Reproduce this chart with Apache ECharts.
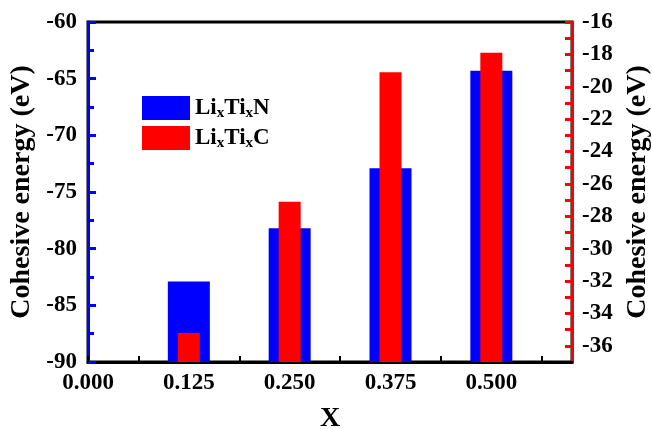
<!DOCTYPE html>
<html><head><meta charset="utf-8">
<script src="https://cdn.jsdelivr.net/npm/echarts@6/dist/echarts.min.js"></script>
<style>html,body{margin:0;padding:0;background:#fff}#c{width:652px;height:429px}</style>
</head><body><div id="c"></div>
<script>
var xValues = [0.125, 0.250, 0.375, 0.500];
var nitrideEnergy = [-82.9, -78.2, -72.9, -64.3];   // LixTixN, left axis
var carbideEnergy = [-35.2, -27.1, -19.1, -17.9];   // LixTixC, right axis
var seriesNames = ['LixTixN', 'LixTixC'];
var xTickLabels = [0.000, 0.125, 0.250, 0.375, 0.500];

var FONT = '"Liberation Serif", "Times New Roman", serif';
function pairs(xs, ys){ return xs.map(function(x,i){ return [x, ys[i]]; }); }
var chart = echarts.init(document.getElementById('c'));
var xCommon = {
  type: 'value', min: 0, max: 0.6, interval: 0.0625,
  splitLine: {show: false}
};
chart.setOption({
  animation: false,
  backgroundColor: '#fff',
  grid: {left: 88, right: 80, top: 22, bottom: 67, containLabel: false, outerBoundsMode: 'none',
         show: true, borderColor: '#000', borderWidth: 3, backgroundColor: 'transparent'},
  legend: {
    left: 137, top: 88, orient: 'vertical', itemWidth: 48, itemHeight: 24, itemGap: 2,
    icon: 'rect',
    data: seriesNames,
    formatter: function(n){ return '{a|Li}{b|x}{a|Ti}{b|x}{a|' + n.slice(-1) + '}'; },
    textStyle: {
      fontFamily: FONT, fontWeight: 'bold', color: '#000',
      rich: {
        a: {fontFamily: FONT, fontWeight: 'bold', fontSize: 23, lineHeight: 26, color: '#000'},
        b: {fontFamily: FONT, fontWeight: 'bold', fontSize: 15, lineHeight: 15, padding: [13,0,0,0], verticalAlign: 'bottom', color: '#000'}
      }
    }
  },
  xAxis: [
    Object.assign({}, xCommon, {
      name: 'X', nameLocation: 'middle', nameGap: 43,
      nameTextStyle: {fontFamily: FONT, fontWeight: 'bold', fontSize: 28, color: '#000'},
      axisLine: {show: true, onZero: false, lineStyle: {color: '#000', width: 3}},
      axisTick: {show: true, inside: true, length: 6, lineStyle: {color: '#000', width: 2}},
      axisLabel: {
        fontFamily: FONT, fontWeight: 'bold', fontSize: 23, color: '#000', margin: 10,
        showMaxLabel: false,
        formatter: function(v){
          for (var i=0;i<xTickLabels.length;i++){ if (Math.abs(v-xTickLabels[i])<1e-9) return xTickLabels[i].toFixed(3); }
          return '';
        }
      }
    }),
    Object.assign({}, xCommon, {show: false})
  ],
  yAxis: [
    {
      type: 'value', min: -90, max: -60, interval: 5, startValue: -90, position: 'left',
      name: 'Cohesive energy (eV)', nameLocation: 'middle', nameGap: 51, nameRotate: 90,
      nameTextStyle: {fontFamily: FONT, fontWeight: 'bold', fontSize: 28, color: '#000'},
      axisLine: {show: true, onZero: false, lineStyle: {color: '#0000ff', width: 3}},
      axisTick: {show: true, inside: true, length: 8, lineStyle: {color: '#0000ff', width: 3}},
      minorTick: {show: true, splitNumber: 2, length: 6, lineStyle: {color: '#0000ff', width: 3}},
      axisLabel: {fontFamily: FONT, fontWeight: 'bold', fontSize: 23, color: '#000', margin: 11},
      splitLine: {show: false}
    },
    {
      type: 'value', min: -37, max: -16, interval: 1, startValue: -37, position: 'right',
      name: 'Cohesive energy (eV)', nameLocation: 'middle', nameGap: 52, nameRotate: 90,
      nameTextStyle: {fontFamily: FONT, fontWeight: 'bold', fontSize: 28, color: '#000'},
      axisLine: {show: true, onZero: false, lineStyle: {color: '#ff0000', width: 3}},
      axisTick: {show: true, inside: true, length: 7, lineStyle: {color: '#ff0000', width: 3}},
      axisLabel: {fontFamily: FONT, fontWeight: 'bold', fontSize: 23, color: '#000', margin: 10,
        showMinLabel: false,
        formatter: function(v){ return (Math.round(v) % 2 === 0) ? String(v) : ''; }},
      splitLine: {show: false}
    }
  ],
  series: [
    {name: seriesNames[0], type: 'bar', xAxisIndex: 0, yAxisIndex: 0, barWidth: 42,
     itemStyle: {color: '#0000ff'}, data: pairs(xValues, nitrideEnergy), z: 2},
    {name: seriesNames[1], type: 'bar', xAxisIndex: 1, yAxisIndex: 1, barWidth: 22,
     itemStyle: {color: '#ff0000'}, data: pairs(xValues, carbideEnergy), z: 3}
  ]
});
</script></body></html>
